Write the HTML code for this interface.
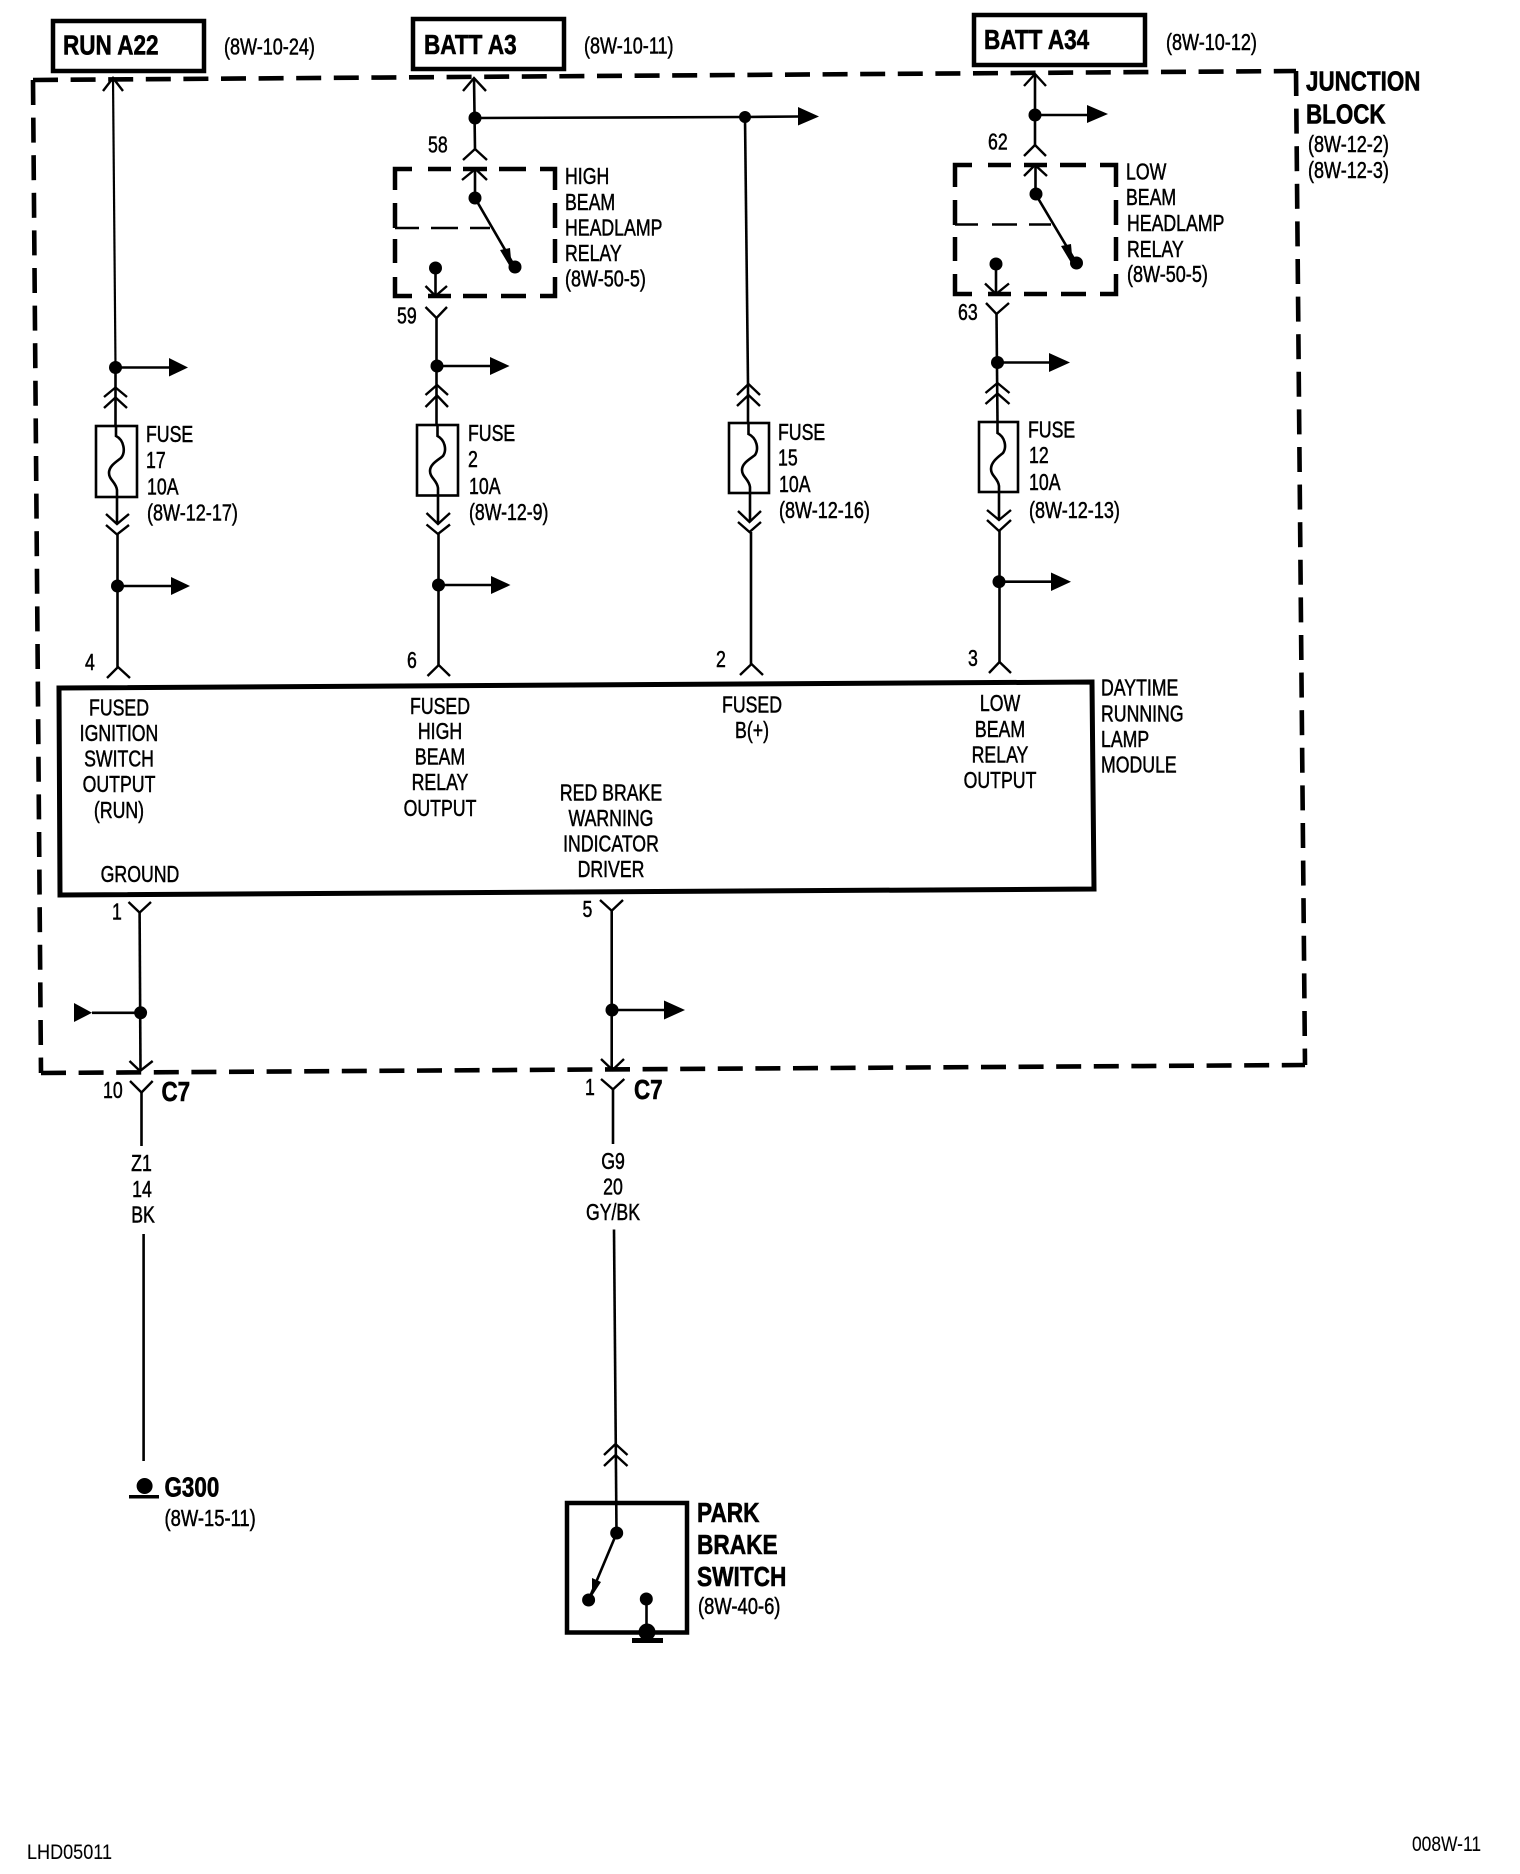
<!DOCTYPE html>
<html><head><meta charset="utf-8"><title>Daytime Running Lamp Module</title>
<style>
html,body{margin:0;padding:0;background:#fff}
svg{display:block}
text{font-family:"Liberation Sans",Arial,sans-serif;font-size:23px;fill:#000;stroke:#000;stroke-width:.5px}
.b{font-weight:bold;font-size:28px;stroke-width:.6px}
.m{text-anchor:middle}
.w{fill:none;stroke:#000;stroke-width:2.6}
.c{fill:none;stroke:#000;stroke-width:2.4}
.d{fill:none;stroke:#000;stroke-width:4.6;stroke-dasharray:25 12.6}
.r{fill:none;stroke:#000;stroke-width:4.5}
.bx{fill:none;stroke:#000;stroke-width:4.5}
.fb{fill:none;stroke:#000;stroke-width:2.6}
circle,polygon{fill:#000}
</style></head><body>
<svg xmlns="http://www.w3.org/2000/svg" width="1520" height="1874" viewBox="0 0 1520 1874">
<rect width="1520" height="1874" fill="#fff"/>

<!-- junction block outline -->
<path class="d" d="M33 80L1296 71"/>
<path class="d" d="M33 80L41 1073"/>
<path class="d" d="M41 1073L1305 1065"/>
<path class="d" d="M1296 71L1305 1065"/>

<!-- header boxes -->
<rect class="bx" x="53" y="21" width="151" height="50"/>
<rect class="bx" x="413" y="19" width="151" height="50"/>
<rect class="bx" x="974" y="15" width="171" height="50"/>
<text class="b" transform="translate(63 54.5) scale(.805 1)">RUN A22</text>
<text class="b" transform="translate(424 54) scale(.805 1)">BATT A3</text>
<text class="b" transform="translate(984 49) scale(.805 1)">BATT A34</text>
<text transform="translate(224 54.5) scale(.785 1)">(8W-10-24)</text>
<text transform="translate(584 53.5) scale(.785 1)">(8W-10-11)</text>
<text transform="translate(1166 50) scale(.785 1)">(8W-10-12)</text>

<!-- junction block label -->
<text class="b" transform="translate(1306 90.5) scale(.8 1)">JUNCTION</text>
<text class="b" transform="translate(1306 123.5) scale(.8 1)">BLOCK</text>
<text transform="translate(1308 152) scale(.785 1)">(8W-12-2)</text>
<text transform="translate(1308 178) scale(.785 1)">(8W-12-3)</text>

<!-- column 1 -->
<path class="c" d="M103 91L113 78L123 91"/>
<path class="w" style="stroke-width:2.2" d="M113 78L115.5 367"/>
<circle cx="115.5" cy="367.5" r="6.5"/>
<path class="w" d="M115.5 367.5H170"/>
<polygon points="169,358 188,367.5 169,376.5"/>
<path class="w" d="M115.5 367.5V426"/>
<path class="c" d="M104 397L115.5 387.5L127 397M104 408L115.5 397.5L127 408"/>
<rect class="fb" x="96" y="426" width="41" height="71"/>
<path class="w" d="M116 426V436C124 440 126 452 121 458C116 462 109 466 109 473C109 480 116 482 117 490V524"/>
<path class="c" d="M106 514L117 524L129 514M106 525L117 534.5L129 525"/>
<path class="w" d="M117.5 534V667"/>
<circle cx="117.5" cy="586" r="6.5"/>
<path class="w" d="M117.5 586H172"/>
<polygon points="171,577 190,586 171,595"/>
<path class="c" d="M107 678L118 667L130 678"/>
<text transform="translate(85 670) scale(.77 1)">4</text>
<text transform="translate(146 442) scale(.77 1)">FUSE</text>
<text transform="translate(146 468) scale(.77 1)">17</text>
<text transform="translate(147 494.5) scale(.77 1)">10A</text>
<text transform="translate(147 520.5) scale(.785 1)">(8W-12-17)</text>

<!-- column 2 -->
<path class="c" d="M463 91L474 78L486 91"/>
<path class="w" d="M474 78L475 149"/>
<circle cx="475" cy="118" r="6.5"/>
<path class="w" d="M475 118L745 117"/>
<path class="w" d="M745 117L799 116.5"/>
<polygon points="798,107 819,116.5 798,125.5"/>
<circle cx="745" cy="117" r="6"/>
<path class="c" d="M463 160L475 149L487 160"/>
<text transform="translate(428 152.5) scale(.77 1)">58</text>
<!-- high beam relay -->
<path class="r" d="M412 169H395V190M395 203V228M395 239V263M395 277V296H412M428 169H451M463 169H487M499 169H526M540 169H555V190M555 203V228M555 239V263M555 277V296H540M526 296H501M487 296H463M451 296H428"/>
<path class="c" d="M395 228H419M431 228H458M470 228H490"/>
<path class="c" d="M462 180L475.5 169L487 180"/>
<path class="w" d="M475 169V198L515 267"/>
<circle cx="475" cy="198" r="6.5"/>
<circle cx="515" cy="267" r="6.5"/>
<polygon points="500,250 512,270 510,248"/>
<circle cx="435.5" cy="268" r="6.5"/>
<path class="w" d="M435.5 268V296"/>
<path class="c" d="M425.5 286L435.5 296L447 286"/>
<path class="c" d="M425.5 307L436.5 318L447 307"/>
<text transform="translate(565 184) scale(.77 1)">HIGH</text>
<text transform="translate(565 210) scale(.77 1)">BEAM</text>
<text transform="translate(565 235.5) scale(.77 1)">HEADLAMP</text>
<text transform="translate(565 261) scale(.77 1)">RELAY</text>
<text transform="translate(565 286.5) scale(.785 1)">(8W-50-5)</text>
<text transform="translate(397 323.5) scale(.77 1)">59</text>
<path class="w" d="M436.5 318V425"/>
<circle cx="437" cy="366" r="6.5"/>
<path class="w" d="M437 366H491"/>
<polygon points="490,357 509.5,366 490,375"/>
<path class="c" d="M425.5 395L437 385L448 395M425.5 407L437 395.5L448 407"/>
<rect class="fb" x="417" y="425" width="41" height="70.5"/>
<path class="w" d="M437.5 425V436C445 440 447 450 443 456C438 460 430 464 430 471C430 478 437 480 438 488V524"/>
<path class="c" d="M426.5 513L438 524L450 513M426.5 524.5L438 534L450 524.5"/>
<path class="w" d="M438.5 534V665"/>
<circle cx="438.5" cy="585" r="6.5"/>
<path class="w" d="M438.5 585H492"/>
<polygon points="491,576 510.5,585 491,594"/>
<path class="c" d="M427.5 676L438.7 665L450 676"/>
<text transform="translate(407 668) scale(.77 1)">6</text>
<text transform="translate(468 441) scale(.77 1)">FUSE</text>
<text transform="translate(468 467) scale(.77 1)">2</text>
<text transform="translate(469 494) scale(.77 1)">10A</text>
<text transform="translate(469 520) scale(.77 1)">(8W-12-9)</text>

<!-- column 3 -->
<path class="w" d="M745 117L748 384"/>
<path class="c" d="M737 395L748.5 384L760 395M737 406L748.5 395L760 406"/>
<path class="w" d="M748 384V423"/>
<rect class="fb" x="729" y="423" width="40" height="70"/>
<path class="w" d="M748.5 423V434C757 438 759 449 755 455C750 459 742 463 742 470C742 477 749 479 750 487V522"/>
<path class="c" d="M738 511L749.5 522L761 511M738 522L749.5 532L761 522"/>
<path class="w" d="M751 532V664"/>
<path class="c" d="M740 675L751.5 664L763 675"/>
<text transform="translate(716 667) scale(.77 1)">2</text>
<text transform="translate(778 440) scale(.77 1)">FUSE</text>
<text transform="translate(778 465.5) scale(.77 1)">15</text>
<text transform="translate(779 492) scale(.77 1)">10A</text>
<text transform="translate(779 518) scale(.785 1)">(8W-12-16)</text>

<!-- column 4 -->
<path class="c" d="M1024 86L1035 74L1046 86"/>
<path class="w" d="M1035 74V145"/>
<circle cx="1035" cy="115" r="6.5"/>
<path class="w" d="M1035 115H1088"/>
<polygon points="1087,105 1108,114 1087,123"/>
<path class="c" d="M1024 156L1035 145L1046 156"/>
<text transform="translate(988 149.5) scale(.77 1)">62</text>
<path class="r" d="M972 165H955V187M955 200V225M955 237V261M955 274V294H972M988 165H1011M1024 165H1047M1060 165H1086M1100 165H1116V187M1116 200V225M1116 237V261M1116 274V294H1100M1086 294H1061M1047 294H1024M1011 294H988"/>
<path class="c" d="M955 224.5H978M992 224.5H1017M1029 224.5H1051"/>
<path class="c" d="M1024 176L1035 165L1047 176"/>
<path class="w" d="M1035.5 165V194L1076.5 263"/>
<circle cx="1036" cy="194" r="6.5"/>
<circle cx="1076.5" cy="263" r="6.5"/>
<polygon points="1061,246 1073,266 1071,244"/>
<circle cx="996" cy="264" r="6.5"/>
<path class="w" d="M996 264V294"/>
<path class="c" d="M985 283.5L996 294L1009 283.5"/>
<path class="c" d="M986 303L996.5 314L1009 303"/>
<text transform="translate(1126 179.5) scale(.77 1)">LOW</text>
<text transform="translate(1126 205) scale(.77 1)">BEAM</text>
<text transform="translate(1127 231) scale(.77 1)">HEADLAMP</text>
<text transform="translate(1127 257) scale(.77 1)">RELAY</text>
<text transform="translate(1127 282) scale(.785 1)">(8W-50-5)</text>
<text transform="translate(958 320) scale(.77 1)">63</text>
<path class="w" d="M996.5 314L997.5 422"/>
<circle cx="997.5" cy="362.5" r="6.5"/>
<path class="w" d="M997.5 362.5H1050"/>
<polygon points="1049,353 1070,362.5 1049,372"/>
<path class="c" d="M985.5 393L997.5 383L1009.5 393M985.5 404L997.5 393.5L1009.5 404"/>
<rect class="fb" x="979" y="422" width="39" height="70"/>
<path class="w" d="M997.5 422V433C1005 437 1007 447 1003 453C998 457 991 462 991 469C991 476 998 478 999 486V520"/>
<path class="c" d="M987 510L999 520L1011 510M987 520L999 531L1011 520"/>
<path class="w" d="M999.5 531V662"/>
<circle cx="999" cy="581.7" r="6.5"/>
<path class="w" d="M999 581.7H1052"/>
<polygon points="1051,572.5 1071,581.7 1051,591"/>
<path class="c" d="M989 673L999.5 662L1011 673"/>
<text transform="translate(968 666) scale(.77 1)">3</text>
<text transform="translate(1028 437.5) scale(.77 1)">FUSE</text>
<text transform="translate(1029 463) scale(.77 1)">12</text>
<text transform="translate(1029 490) scale(.77 1)">10A</text>
<text transform="translate(1029 518) scale(.785 1)">(8W-12-13)</text>

<!-- module -->
<polygon points="59,688 1092,682 1094,889 60,895" style="fill:none;stroke:#000;stroke-width:5"/>
<text class="m" transform="translate(119 715.5) scale(.77 1)">FUSED</text>
<text class="m" transform="translate(119 741) scale(.77 1)">IGNITION</text>
<text class="m" transform="translate(119 766.5) scale(.77 1)">SWITCH</text>
<text class="m" transform="translate(119 792) scale(.77 1)">OUTPUT</text>
<text class="m" transform="translate(119 818) scale(.77 1)">(RUN)</text>
<text class="m" transform="translate(140 882) scale(.77 1)">GROUND</text>
<text class="m" transform="translate(440 714) scale(.77 1)">FUSED</text>
<text class="m" transform="translate(440 739) scale(.77 1)">HIGH</text>
<text class="m" transform="translate(440 764.5) scale(.77 1)">BEAM</text>
<text class="m" transform="translate(440 790) scale(.77 1)">RELAY</text>
<text class="m" transform="translate(440 816) scale(.77 1)">OUTPUT</text>
<text class="m" transform="translate(611 800.5) scale(.77 1)">RED BRAKE</text>
<text class="m" transform="translate(611 826) scale(.77 1)">WARNING</text>
<text class="m" transform="translate(611 851.5) scale(.77 1)">INDICATOR</text>
<text class="m" transform="translate(611 877) scale(.77 1)">DRIVER</text>
<text class="m" transform="translate(752 712.5) scale(.77 1)">FUSED</text>
<text class="m" transform="translate(752 738) scale(.77 1)">B(+)</text>
<text class="m" transform="translate(1000 711) scale(.77 1)">LOW</text>
<text class="m" transform="translate(1000 737) scale(.77 1)">BEAM</text>
<text class="m" transform="translate(1000 762.5) scale(.77 1)">RELAY</text>
<text class="m" transform="translate(1000 788) scale(.77 1)">OUTPUT</text>
<text transform="translate(1101 695.5) scale(.77 1)">DAYTIME</text>
<text transform="translate(1101 721.5) scale(.77 1)">RUNNING</text>
<text transform="translate(1101 747) scale(.77 1)">LAMP</text>
<text transform="translate(1101 772.5) scale(.77 1)">MODULE</text>

<!-- ground wire -->
<path class="c" d="M128.5 902L139.6 912.6L151 902"/>
<path class="w" d="M139.6 912.6L140.5 1071"/>
<circle cx="140.6" cy="1012.8" r="6.5"/>
<path class="w" d="M92 1012.8H140"/>
<polygon points="74,1003 92,1012.8 74,1022"/>
<path class="c" d="M129.5 1061L140 1071L152.7 1061"/>
<text transform="translate(112 919.5) scale(.77 1)">1</text>
<path class="c" d="M130 1081L141.5 1092.5L152.7 1081"/>
<path class="w" d="M141.5 1092.5V1146"/>
<text transform="translate(103 1098) scale(.77 1)">10</text>
<text class="b" transform="translate(161.5 1101) scale(.8 1)">C7</text>
<text class="m" transform="translate(141.5 1171) scale(.77 1)">Z1</text>
<text class="m" transform="translate(142 1197) scale(.77 1)">14</text>
<text class="m" transform="translate(143 1222.5) scale(.77 1)">BK</text>
<path class="w" d="M143.6 1234V1461"/>
<circle cx="144.6" cy="1486" r="8"/>
<rect x="129" y="1495" width="30" height="3.5"/>
<text class="b" transform="translate(164.5 1496.5) scale(.8 1)">G300</text>
<text transform="translate(164.5 1526) scale(.8 1)">(8W-15-11)</text>

<!-- brake wire -->
<path class="c" d="M600 900L611.7 910.7L623 900"/>
<path class="w" d="M611.7 910.7V1070"/>
<circle cx="612" cy="1010" r="6.5"/>
<path class="w" d="M612 1010H665"/>
<polygon points="664,1000.5 685,1010 664,1019.5"/>
<path class="c" d="M601 1059L612.5 1070L624 1059"/>
<text transform="translate(582.5 917) scale(.77 1)">5</text>
<text transform="translate(585 1095) scale(.77 1)">1</text>
<path class="c" d="M601 1079L613 1089.4L624.3 1079"/>
<path class="w" d="M613 1089.4V1144"/>
<text class="b" transform="translate(634 1099) scale(.8 1)">C7</text>
<text class="m" transform="translate(613 1169) scale(.77 1)">G9</text>
<text class="m" transform="translate(613 1194.5) scale(.77 1)">20</text>
<text class="m" transform="translate(613 1220) scale(.77 1)">GY/BK</text>
<path class="w" d="M614 1229.5L616.5 1533"/>
<path class="c" d="M604 1455L615.5 1444L627.5 1455M604 1466L615.5 1455L627.5 1466"/>

<!-- park brake switch -->
<rect class="bx" x="567" y="1503" width="120" height="129.5"/>
<circle cx="616.7" cy="1533" r="6.5"/>
<path class="w" d="M616.7 1533L588.6 1600"/>
<circle cx="588.6" cy="1600" r="6.5"/>
<polygon points="592,1578 601,1582 592,1596"/>
<circle cx="646.3" cy="1599" r="6.5"/>
<path class="w" d="M646.5 1599V1632"/>
<circle cx="647" cy="1632" r="8.5"/>
<rect x="632" y="1638" width="31" height="5"/>
<text class="b" transform="translate(697 1522) scale(.81 1)">PARK</text>
<text class="b" transform="translate(697 1554) scale(.81 1)">BRAKE</text>
<text class="b" transform="translate(697 1586) scale(.81 1)">SWITCH</text>
<text transform="translate(698 1614) scale(.8 1)">(8W-40-6)</text>

<!-- footer -->
<text style="font-size:21px;stroke-width:.1" transform="translate(27 1859) scale(.86 1)">LHD05011</text>
<text style="font-size:21px;stroke-width:.1" transform="translate(1412 1851) scale(.83 1)">008W-11</text>
</svg>
</body></html>
